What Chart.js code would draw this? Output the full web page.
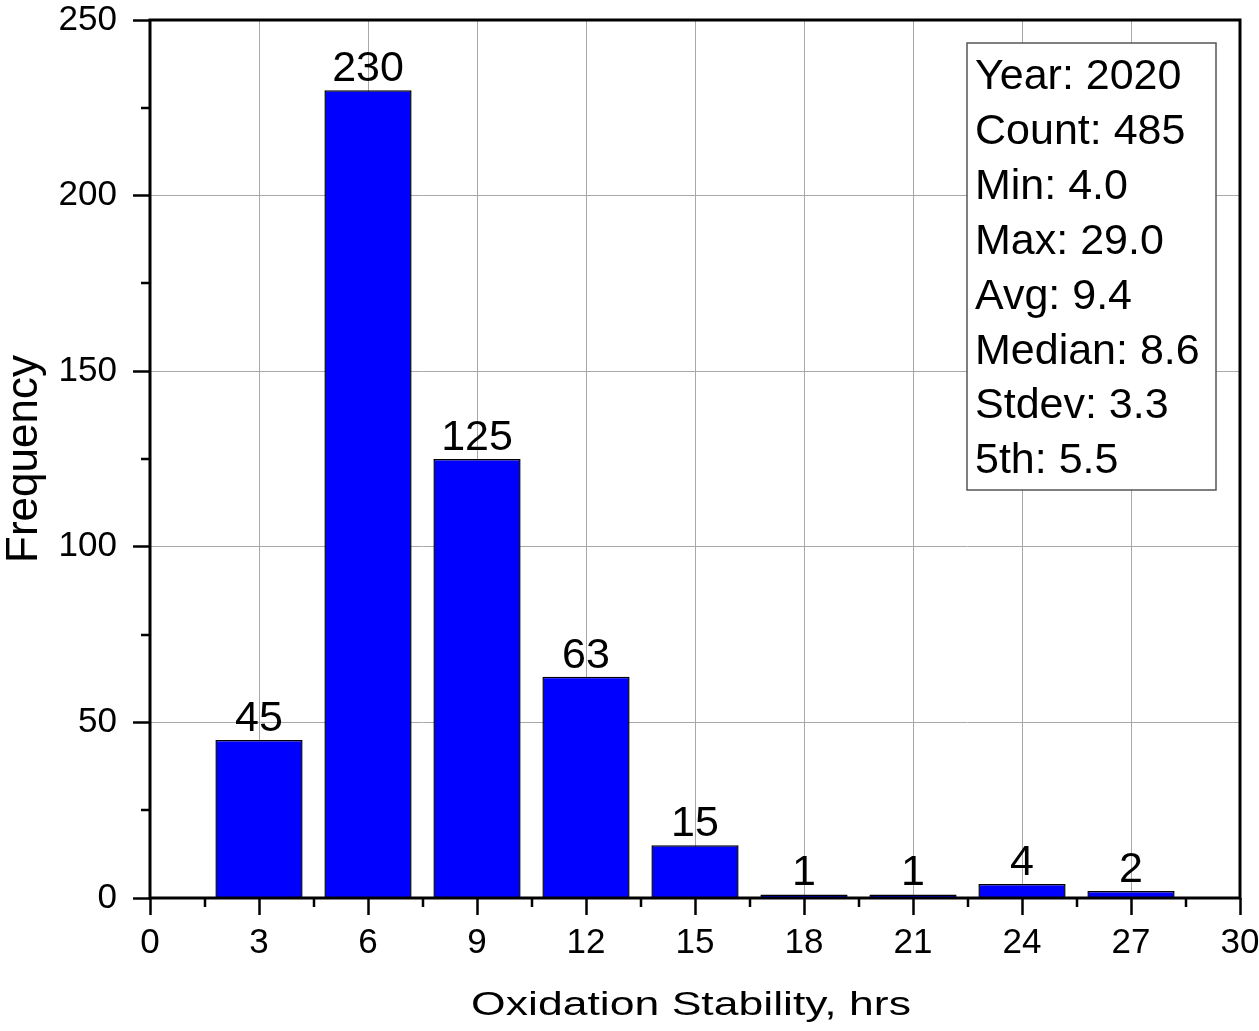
<!DOCTYPE html>
<html>
<head>
<meta charset="utf-8">
<script src="https://cdn.jsdelivr.net/npm/chart.js@4/dist/chart.umd.min.js"></script>
<style>
  html, body { margin: 0; padding: 0; background: #ffffff; }
  #wrap { width: 1259px; height: 1031px; }
</style>
</head>
<body>
<div id="wrap"><canvas id="hist" width="1259" height="1031"></canvas></div>
<script>
// Histogram of oxidation stability (hours), 2020 samples
const binCenters = [3, 6, 9, 12, 15, 18, 21, 24, 27];
const binCounts = [45, 230, 125, 63, 15, 1, 1, 4, 2];

const xTickStep = 3;
const yTickStep = 50;
const xMinorStep = 1.5;
const yMinorStep = 25;

const xTitle = 'Oxidation Stability, hrs';
const yTitle = 'Frequency';

const statsLines = [
  'Year: 2020',
  'Count: 485',
  'Min: 4.0',
  'Max: 29.0',
  'Avg: 9.4',
  'Median: 8.6',
  'Stdev: 3.3',
  '5th: 5.5'
];

const FONT = '"Liberation Sans", Arial, Helvetica, sans-serif';

// Frame around the plot, minor ticks, value labels, stats box and x title
const decorations = {
  id: 'decorations',
  afterDatasetsDraw(chart) {
    const { ctx, chartArea: a, scales } = chart;
    const xs = scales.x, ys = scales.y;
    ctx.save();

    // value labels above bars
    ctx.fillStyle = '#000';
    ctx.font = '43px ' + FONT;
    ctx.textAlign = 'center';
    ctx.textBaseline = 'alphabetic';
    const meta = chart.getDatasetMeta(0);
    meta.data.forEach((bar, i) => {
      ctx.fillText(String(binCounts[i]), bar.x, bar.y - 9);
    });

    // minor ticks
    ctx.strokeStyle = '#000';
    ctx.lineWidth = 2.5;
    ctx.beginPath();
    for (let v = xMinorStep; v < xs.max; v += xTickStep) {
      const px = Math.round(xs.getPixelForValue(v));
      ctx.moveTo(px, a.bottom);
      ctx.lineTo(px, a.bottom + 9);
    }
    for (let v = yMinorStep; v < ys.max; v += yTickStep) {
      const py = Math.round(ys.getPixelForValue(v));
      ctx.moveTo(a.left, py);
      ctx.lineTo(a.left - 9, py);
    }
    ctx.stroke();

    // plot frame
    ctx.lineWidth = 3;
    ctx.strokeStyle = '#000';
    ctx.strokeRect(a.left, a.top, a.right - a.left, a.bottom - a.top);

    // statistics box
    const bx = 967, by = 43, bw = 249, bh = 447;
    ctx.fillStyle = '#fff';
    ctx.fillRect(bx, by, bw, bh);
    ctx.strokeStyle = '#555';
    ctx.lineWidth = 1.5;
    ctx.strokeRect(bx, by, bw, bh);
    ctx.fillStyle = '#000';
    ctx.font = '43px ' + FONT;
    ctx.textAlign = 'left';
    ctx.textBaseline = 'alphabetic';
    statsLines.forEach((t, i) => {
      ctx.fillText(t, bx + 8, 89 + i * 54.9);
    });

    // x axis title (wide lettering)
    ctx.font = '34px ' + FONT;
    ctx.textAlign = 'center';
    ctx.translate((a.left + a.right) / 2 - 4, 1015);
    ctx.scale(1.31, 1);
    ctx.fillText(xTitle, 0, 0);

    ctx.restore();
  }
};

new Chart(document.getElementById('hist'), {
  type: 'bar',
  data: {
    datasets: [{
      data: binCenters.map((c, i) => ({ x: c, y: binCounts[i] })),
      backgroundColor: '#0000ff',
      borderColor: '#000000',
      borderWidth: 1.5,
      barPercentage: 1.0,
      categoryPercentage: 0.8
    }]
  },
  options: {
    responsive: false,
    animation: false,
    devicePixelRatio: 1,
    layout: { padding: { top: 20, right: 19, left: 0, bottom: 0 } },
    plugins: { legend: { display: false }, tooltip: { enabled: false } },
    scales: {
      x: {
        type: 'linear',
        min: 0,
        max: 30,
        offset: false,
        grid: {
          offset: false,
          color: '#a8a8a8',
          lineWidth: 1,
          tickLength: 17,
          tickColor: '#000',
          tickWidth: 2.5
        },
        border: { display: false },
        ticks: {
          stepSize: xTickStep,
          color: '#000',
          padding: 11,
          maxRotation: 0,
          font: { family: FONT, size: 35, lineHeight: 1 }
        },
        afterFit(scale) {
          scale.height = 133;
          scale.paddingLeft = 0;
          scale.paddingRight = 0;
        }
      },
      y: {
        min: 0,
        max: 250,
        grid: {
          color: '#a8a8a8',
          lineWidth: 1,
          tickLength: 17,
          tickColor: '#000',
          tickWidth: 2.5
        },
        border: { display: false },
        ticks: {
          stepSize: yTickStep,
          color: '#000',
          padding: 16,
          font: { family: FONT, size: 35, lineHeight: 1 }
        },
        title: {
          display: true,
          text: yTitle,
          color: '#000',
          padding: { top: 3, bottom: 0 },
          font: { family: FONT, size: 44, lineHeight: 1 }
        },
        afterFit(scale) {
          scale.width = 150;
          scale.paddingTop = 0;
          scale.paddingBottom = 0;
        }
      }
    }
  },
  plugins: [decorations]
});
</script>
</body>
</html>
